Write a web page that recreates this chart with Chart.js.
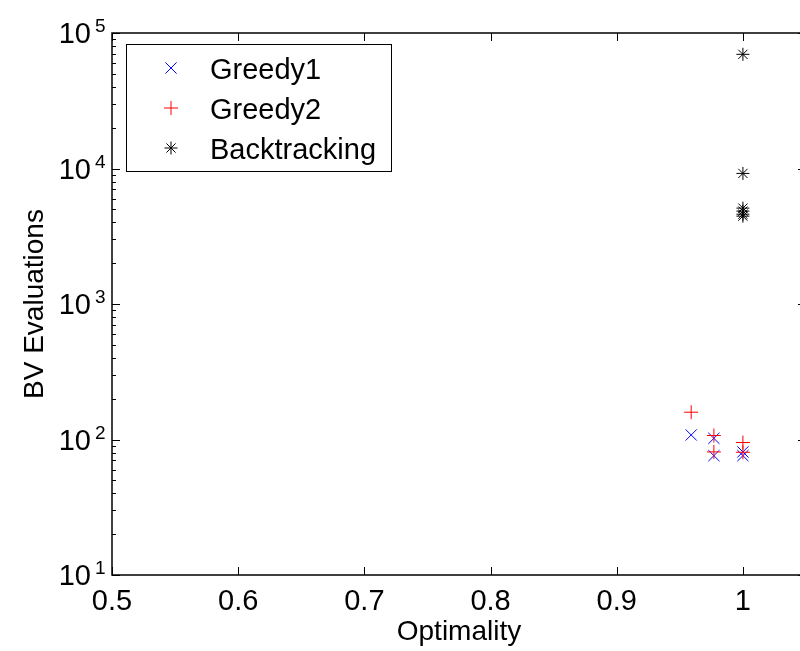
<!DOCTYPE html>
<html>
<head>
<meta charset="utf-8">
<script src="https://cdn.jsdelivr.net/npm/chart.js@4.4.0/dist/chart.umd.min.js"></script>
<style>
body { margin: 0; background: #fff; overflow: hidden; }
#caixa { width: 800px; height: 651px; overflow: hidden; }
</style>
</head>
<body>
<div id="caixa"><canvas id="grafico" width="812" height="651"></canvas></div>
<script>
// valores
var rotulosSeries = ["Greedy1", "Greedy2", "Backtracking"]
var greedy1X = [0.959, 0.977, 0.977, 1, 1]
var greedy1Y = [108, 102, 76, 81, 76]
var greedy2X = [0.959, 0.977, 0.977, 1, 1]
var greedy2Y = [159, 107, 81, 95, 80.5]
var backX = [1, 1, 1, 1, 1, 1]
var backY = [69600, 9200, 5100, 4850, 4600, 4450]
var ticksX = [0.5, 0.6, 0.7, 0.8, 0.9, 1]
var rotulosX = ["0.5", "0.6", "0.7", "0.8", "0.9", "1"]
var expoentesY = [1, 2, 3, 4, 5]

var fonte = "'Liberation Sans', Arial, sans-serif"
var tamFonte = 29

function pontos(xs, ys) {
    return xs.map((x, i) => ({ x: x, y: ys[i] }))
}

// marcador estilo matlab (x, + e *)
function desenharMarcador(ctx, tipo, x, y, cor) {
    ctx.save()
    ctx.strokeStyle = cor
    ctx.lineWidth = 1
    ctx.beginPath()
    if (tipo == 'cross' || tipo == 'star') {
        var r = tipo == 'star' ? 6.5 : 7
        ctx.moveTo(x - r, y); ctx.lineTo(x + r, y)
        ctx.moveTo(x, y - r); ctx.lineTo(x, y + r)
    }
    if (tipo == 'crossRot' || tipo == 'star') {
        var d = tipo == 'star' ? 4.6 : 5.6
        ctx.moveTo(x - d, y - d); ctx.lineTo(x + d, y + d)
        ctx.moveTo(x - d, y + d); ctx.lineTo(x + d, y - d)
    }
    ctx.stroke()
    ctx.restore()
}

const pluginEixos = {
    id: 'eixos',
    afterDraw(chart) {
        const ctx = chart.ctx
        const area = chart.chartArea
        const sx = chart.scales.x
        const sy = chart.scales.y

        ctx.save()
        ctx.strokeStyle = '#000'
        ctx.lineWidth = 1.5
        ctx.strokeRect(area.left, area.top, area.right - area.left, area.bottom - area.top)

        ctx.lineWidth = 1
        ctx.beginPath()
        sx.ticks.forEach(t => {
            var px = Math.round(sx.getPixelForValue(t.value)) + 0.5
            ctx.moveTo(px, area.bottom); ctx.lineTo(px, area.bottom - 8)
            ctx.moveTo(px, area.top); ctx.lineTo(px, area.top + 8)
        })
        sy.ticks.forEach(t => {
            var e = Math.log10(t.value)
            var tam = Math.abs(e - Math.round(e)) < 1e-9 ? 8 : 4
            var py = Math.round(sy.getPixelForValue(t.value)) + 0.5
            ctx.moveTo(area.left, py); ctx.lineTo(area.left + tam, py)
            ctx.moveTo(area.right, py); ctx.lineTo(area.right - tam, py)
        })
        ctx.stroke()

        // rotulos 10^n
        ctx.fillStyle = '#000'
        expoentesY.forEach(e => {
            var py = sy.getPixelForValue(Math.pow(10, e))
            ctx.font = tamFonte + 'px ' + fonte
            ctx.textAlign = 'right'
            ctx.textBaseline = 'alphabetic'
            ctx.fillText('10', 91, py + 10)
            ctx.font = '19px ' + fonte
            ctx.textAlign = 'left'
            ctx.fillText(String(e), 95, py - 1)
        })

        // legenda
        ctx.fillStyle = '#fff'
        ctx.fillRect(126.5, 44.5, 265, 127)
        ctx.strokeStyle = '#000'
        ctx.lineWidth = 1
        ctx.strokeRect(126.5, 44.5, 265, 127)
        ctx.fillStyle = '#000'
        ctx.font = tamFonte + 'px ' + fonte
        ctx.textAlign = 'left'
        ctx.textBaseline = 'alphabetic'
        chart.data.datasets.forEach((ds, i) => {
            var ly = 68 + i * 40
            desenharMarcador(ctx, ds.pointStyle, 171, ly, ds.borderColor)
            ctx.fillText(ds.label, 210, ly + 11)
        })
        ctx.restore()
    }
}

const pluginMarcadores = {
    id: 'marcadores',
    afterDatasetsDraw(chart) {
        const ctx = chart.ctx
        // desenha na ordem do matlab: Greedy1, Greedy2, Backtracking
        chart.data.datasets.forEach((ds, i) => {
            chart.getDatasetMeta(i).data.forEach(p => {
                desenharMarcador(ctx, ds.pointStyle, p.x, p.y, ds.borderColor)
            })
        })
    }
}

const config = {
    type: 'scatter',
    data: {
        datasets: [{
            label: rotulosSeries[0],
            data: pontos(greedy1X, greedy1Y),
            pointStyle: 'crossRot',
            borderColor: '#0000ff',
            backgroundColor: '#0000ff',
            radius: 0
        }, {
            label: rotulosSeries[1],
            data: pontos(greedy2X, greedy2Y),
            pointStyle: 'cross',
            borderColor: '#ff0000',
            backgroundColor: '#ff0000',
            radius: 0
        }, {
            label: rotulosSeries[2],
            data: pontos(backX, backY),
            pointStyle: 'star',
            borderColor: '#000000',
            backgroundColor: '#000000',
            radius: 0
        }]
    },
    options: {
        responsive: false,
        animation: false,
        layout: { padding: { top: 33, right: 6, left: 0, bottom: 0 } },
        plugins: { legend: { display: false }, tooltip: { enabled: false } },
        scales: {
            x: {
                type: 'linear',
                min: 0.5,
                max: 1.05,
                grid: { display: false },
                border: { display: false },
                afterBuildTicks: (s) => { s.ticks = ticksX.map(v => ({ value: v })) },
                afterFit: (s) => { s.height = 76 },
                ticks: {
                    color: '#000',
                    padding: 2,
                    autoSkip: false,
                    maxRotation: 0,
                    callback: (v, i) => rotulosX[i],
                    font: { family: fonte, size: tamFonte }
                },
                title: {
                    display: true,
                    text: 'Optimality',
                    color: '#000',
                    padding: { top: 0, bottom: 2 },
                    font: { family: fonte, size: 28 }
                }
            },
            y: {
                type: 'logarithmic',
                min: 10,
                max: 100000,
                grid: { display: false },
                border: { display: false },
                afterBuildTicks: (s) => {
                    var lista = []
                    expoentesY.forEach(e => {
                        if (e < expoentesY[expoentesY.length - 1]) {
                            for (var m = 1; m < 10; m++) lista.push({ value: m * Math.pow(10, e) })
                        } else {
                            lista.push({ value: Math.pow(10, e) })
                        }
                    })
                    s.ticks = lista
                },
                afterFit: (s) => { s.width = 112 },
                ticks: { display: false },
                title: {
                    display: true,
                    text: 'BV Evaluations',
                    color: '#000',
                    padding: { top: 18, bottom: 0 },
                    font: { family: fonte, size: 28 }
                }
            }
        }
    },
    plugins: [pluginMarcadores, pluginEixos]
}

new Chart(document.getElementById('grafico'), config)
</script>
</body>
</html>
